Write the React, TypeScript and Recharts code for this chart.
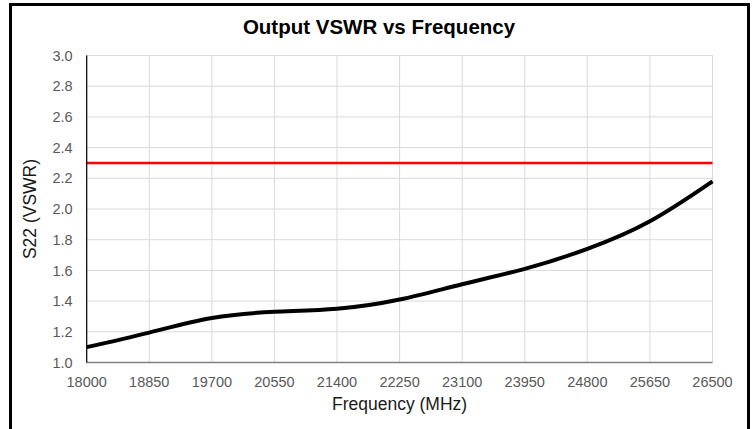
import { Line, LineChart, XAxis, YAxis, CartesianGrid } from "recharts"

const freqs = [18000, 18850, 19700, 20550, 21400, 22250, 23100, 23950, 24800, 25650, 26500]
const s22 = [1.1, 1.195, 1.29, 1.33, 1.35, 1.41, 1.51, 1.61, 1.74, 1.92, 2.18]
const limit = [2.3, 2.3, 2.3, 2.3, 2.3, 2.3, 2.3, 2.3, 2.3, 2.3, 2.3]
const yTicks = [1.0, 1.2, 1.4, 1.6, 1.8, 2.0, 2.2, 2.4, 2.6, 2.8, 3.0]

const data = freqs.map((f, i) => ({ freq: f, s22: s22[i], limit: limit[i] }))

const font = "'Liberation Sans', Arial, sans-serif"

export default function App() {
  return (
    <div
      style={{
        position: "absolute",
        left: 0,
        top: 0,
        width: 755,
        height: 429,
        overflow: "hidden",
        background: "#fff",
        fontFamily: font,
      }}
    >
      <div
        style={{
          position: "absolute",
          left: 9,
          top: 3,
          width: 741,
          height: 500,
          border: "3px solid #000",
          boxSizing: "border-box",
        }}
      />
      <div style={{ position: "absolute", left: 0, top: 0 }}>
        <LineChart
          width={755}
          height={429}
          data={data}
          margin={{ top: 55.5, right: 42.5, left: 26.7, bottom: 36.5 }}
        >
          <CartesianGrid stroke="#d9d9d9" strokeWidth={1} />
          <XAxis
            dataKey="freq"
            type="number"
            domain={[18000, 26500]}
            ticks={freqs}
            height={30}
            tickLine={false}
            tickSize={0}
            tickMargin={14}
            stroke="#808080"
            strokeWidth={1.5}
            tick={{ fill: "#595959", fontSize: 14.5, fontFamily: font }}
            interval={0}
          />
          <YAxis
            type="number"
            domain={[1, 3]}
            ticks={yTicks}
            width={60}
            tickLine={false}
            tickSize={0}
            tickMargin={14}
            stroke="#000"
            strokeWidth={1.2}
            tickFormatter={(v: number) => v.toFixed(1)}
            tick={{ fill: "#595959", fontSize: 14.5, fontFamily: font }}
            interval={0}
          />
          <Line
            dataKey="limit"
            stroke="#ff0000"
            strokeWidth={2.5}
            dot={false}
            isAnimationActive={false}
          />
          <Line
            dataKey="s22"
            type="natural"
            stroke="#000"
            strokeWidth={4}
            dot={false}
            isAnimationActive={false}
          />
        </LineChart>
      </div>
      <svg
        width={755}
        height={429}
        style={{ position: "absolute", left: 0, top: 0, pointerEvents: "none" }}
      >
        <text x={379} y={34} textAnchor="middle" fontSize={20.5} fontWeight="bold" fill="#000" fontFamily={font}>
          Output VSWR vs Frequency
        </text>
        <text x={399.6} y={410} textAnchor="middle" fontSize={17.5} fill="#1a1a1a" fontFamily={font}>
          Frequency (MHz)
        </text>
        <text
          x={36}
          y={209}
          textAnchor="middle"
          fontSize={17.5}
          fill="#1a1a1a"
          fontFamily={font}
          transform="rotate(-90, 36, 209)"
        >
          S22 (VSWR)
        </text>
      </svg>
    </div>
  )
}
